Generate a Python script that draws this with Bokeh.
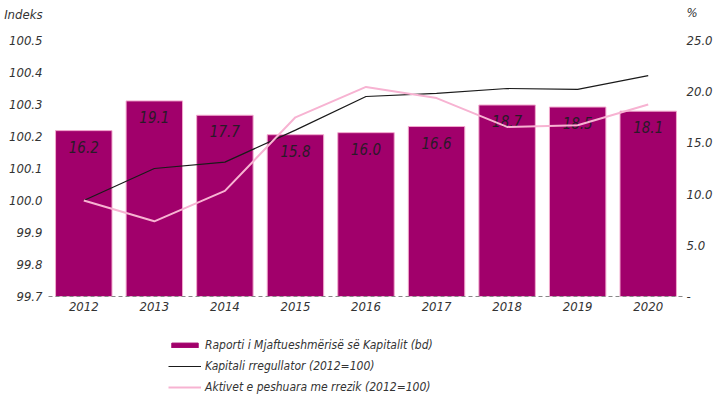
from bokeh.plotting import figure
from bokeh.layouts import column
from bokeh.models import (Range1d, LinearAxis, FixedTicker, NumeralTickFormatter,
                          Legend, LegendItem, ColumnDataSource)
from bokeh.core.properties import value
from bokeh.embed import file_html
from bokeh.resources import INLINE

years = ["2012", "2013", "2014", "2015", "2016", "2017", "2018", "2019", "2020"]
car = [16.2, 19.1, 17.7, 15.8, 16.0, 16.6, 18.7, 18.5, 18.1]
kapitali = [100.0, 100.10, 100.12, 100.22, 100.325, 100.335, 100.35, 100.347, 100.39]
aktivet = [100.0, 99.935, 100.03, 100.26, 100.355, 100.32, 100.23, 100.235, 100.30]
car_labels = [f"{v:.1f}" for v in car]
left_ticks = [99.7, 99.8, 99.9, 100.0, 100.1, 100.2, 100.3, 100.4, 100.5]
right_ticks = [0, 5, 10, 15, 20, 25]
left_title, left_title_pos = "Indeks", 100.58
right_title, right_title_pos = "%", 27.7
legend_labels = ["Raporti i Mjaftueshmërisë së Kapitalit (bd)",
                 "Kapitali rregullator (2012=100)",
                 "Aktivet e peshuara me rrezik (2012=100)"]

FONT = "DejaVu Sans Condensed"
BAR = "#A1006B"
BAR_EDGE = "#F2A9CE"
BLACK = "#1a1a1a"
PINK = "#F7B3D2"
TXT = "#333333"

src = ColumnDataSource(dict(year=years, car=car, lab=car_labels,
                            kap=kapitali, akt=aktivet))

p = figure(width=728, height=322, x_range=years, y_range=Range1d(99.7, 100.6125),
           output_backend="svg", toolbar_location=None,
           min_border_left=48, min_border_right=45, min_border_top=4,
           min_border_bottom=26)
p.extra_y_ranges = {"pct": Range1d(0, 28.516)}
p.outline_line_color = None
p.xgrid.grid_line_color = None
p.ygrid.grid_line_color = None
p.x_range.range_padding = 0

p.vbar(x="year", top="car", width=0.8, source=src, y_range_name="pct",
       fill_color=BAR, line_color=BAR_EDGE, line_width=1)
p.text(x="year", y="car", text="lab", source=src, y_range_name="pct",
       text_align="center", text_baseline="middle", y_offset=16,
       text_font=value(FONT), text_font_style="italic", text_font_size="15px",
       text_color="#2a1a28")
p.line(x="year", y="kap", source=src, line_color=BLACK, line_width=1.2)
p.line(x="year", y="akt", source=src, line_color=PINK, line_width=2)

left = p.yaxis[0]
left.ticker = FixedTicker(ticks=left_ticks + [left_title_pos])
left.formatter = NumeralTickFormatter(format="0.0")
left.major_label_overrides = {left_title_pos: left_title}
right = LinearAxis(y_range_name="pct", ticker=FixedTicker(ticks=right_ticks + [right_title_pos]),
                   formatter=NumeralTickFormatter(format="0.0"))
right.major_label_overrides = {0: "-", right_title_pos: right_title}
p.add_layout(right, "right")

for ax in [left, right, p.xaxis[0]]:
    ax.major_tick_line_color = None
    ax.minor_tick_line_color = None
    ax.major_tick_out = 0
    ax.minor_tick_out = 0
    ax.major_tick_in = 0
    ax.minor_tick_in = 0
    ax.major_label_text_font = FONT
    ax.major_label_text_font_style = "italic"
    ax.major_label_text_font_size = "13px"
    ax.major_label_text_color = TXT
for ax in [left, right]:
    ax.axis_line_color = None
left.major_label_standoff = 6
right.major_label_standoff = 3
p.xaxis.axis_line_color = "#888888"
p.xaxis.axis_line_dash = "4 3"
p.xaxis.axis_line_width = 1
p.xaxis.major_label_standoff = 5

# legend panel: same data, lying far outside its visible range, used only as legend keys
lf = figure(width=728, height=78, output_backend="svg", toolbar_location=None,
            x_range=years, y_range=Range1d(1000, 1001),
            x_axis_location=None, y_axis_location=None,
            min_border_left=0, min_border_right=0, min_border_top=0, min_border_bottom=0)
lf.grid.visible = False
lf.outline_line_color = None
r_bar = lf.vbar(x="year", top="car", width=0.8, source=src, fill_color=BAR, line_color=BAR)
r_kap = lf.line(x="year", y="kap", source=src, line_color=BLACK, line_width=1.2)
r_akt = lf.line(x="year", y="akt", source=src, line_color=PINK, line_width=2)

legend = Legend(items=[LegendItem(label=t, renderers=[r]) for t, r in
                       zip(legend_labels, [r_bar, r_kap, r_akt])],
                location=(120, 5), orientation="vertical")
legend.label_text_font = FONT
legend.label_text_font_style = "italic"
legend.label_text_font_size = "12px"
legend.label_text_color = TXT
legend.glyph_width = 33
legend.glyph_height = 6
legend.label_height = 16
legend.label_standoff = 4
legend.spacing = 5
legend.padding = 0
legend.margin = 0
legend.border_line_color = None
legend.background_fill_alpha = 0
lf.add_layout(legend)

open("out.html", "w").write(file_html(column(p, lf, spacing=0), INLINE))
